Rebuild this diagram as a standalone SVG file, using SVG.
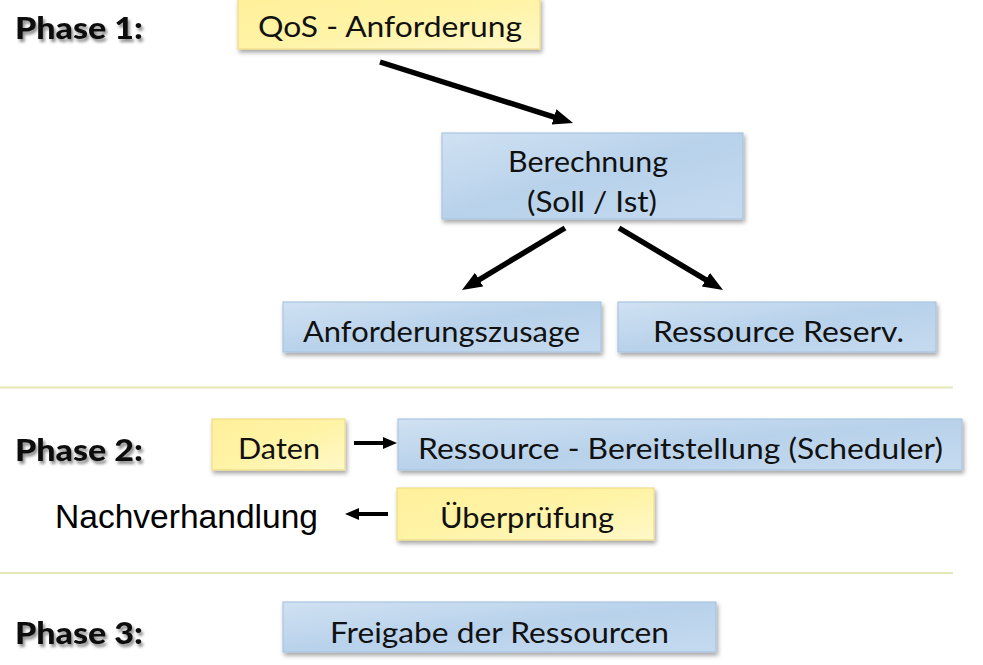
<svg xmlns="http://www.w3.org/2000/svg" width="983" height="665" viewBox="0 0 983 665">
  <defs>
    <linearGradient id="gBlue" x1="0" y1="0" x2="1" y2="1">
      <stop offset="0" stop-color="#d0e1f2"/>
      <stop offset="0.5" stop-color="#b8d2eb"/>
      <stop offset="1" stop-color="#c5daef"/>
    </linearGradient>
    <linearGradient id="gYellow" x1="0" y1="0" x2="1" y2="1">
      <stop offset="0" stop-color="#fff09a"/>
      <stop offset="0.5" stop-color="#fff3a6"/>
      <stop offset="1" stop-color="#fff8c8"/>
    </linearGradient>
    <filter id="shadow" x="-10%" y="-20%" width="120%" height="160%">
      <feDropShadow dx="1.5" dy="3" stdDeviation="2" flood-color="#000" flood-opacity="0.35"/>
    </filter>
    <filter id="tshadow" x="-10%" y="-30%" width="120%" height="170%">
      <feDropShadow dx="2" dy="3" stdDeviation="1.8" flood-color="#000" flood-opacity="0.45"/>
    </filter>
    <marker id="headBig" markerUnits="userSpaceOnUse" markerWidth="22" markerHeight="18" refX="6" refY="8" orient="auto">
      <path d="M0,0 L20,8 L0,16 z" fill="#000"/>
    </marker>
    <marker id="headSmall" markerUnits="userSpaceOnUse" markerWidth="16" markerHeight="14" refX="4" refY="6" orient="auto">
      <path d="M0,0 L14,6 L0,12 z" fill="#000"/>
    </marker>
  </defs>
  <style>
    .blue { fill: url(#gBlue); stroke: #a9c5e1; stroke-width: 1.2; filter: url(#shadow); }
    .yellow { fill: url(#gYellow); stroke: #f0dc86; stroke-width: 1.2; filter: url(#shadow); }
    .lbl { font-family: Lato, "Open Sans", "Liberation Sans", sans-serif; font-size: 29.5px; fill: #111; }
    .phase { font-family: Lato, "Liberation Sans", sans-serif; font-weight: 900; font-size: 30px; fill: #111; filter: url(#tshadow); }
    .plain { font-family: "Liberation Sans", Arial, sans-serif; font-size: 33px; fill: #000; }
    .sep { stroke: #e3e6b5; stroke-width: 2; }
    .arrowBig { stroke: #000; stroke-width: 5.5; fill: none; marker-end: url(#headBig); }
    .arrowSmall { stroke: #000; stroke-width: 4; fill: none; marker-end: url(#headSmall); }
  </style>
  <rect width="983" height="665" fill="#fff"/>

  <g id="separators">
    <line class="sep" x1="0" y1="387.5" x2="953" y2="387.5"/>
    <line class="sep" x1="0" y1="573" x2="953" y2="573"/>
  </g>

  <g id="phase-labels">
    <text class="phase" x="15" y="39" textLength="128" lengthAdjust="spacingAndGlyphs">Phase 1:</text>
    <text class="phase" x="15" y="461" textLength="128" lengthAdjust="spacingAndGlyphs">Phase 2:</text>
    <text class="phase" x="15" y="644" textLength="128" lengthAdjust="spacingAndGlyphs">Phase 3:</text>
  </g>

  <g id="node-qos">
    <rect class="yellow" x="238" y="-2" width="302" height="51"/>
    <text class="lbl" x="258" y="37" textLength="264" lengthAdjust="spacingAndGlyphs">QoS - Anforderung</text>
  </g>

  <g id="node-berechnung">
    <rect class="blue" x="442" y="133" width="301" height="86"/>
    <text class="lbl" x="508" y="172" textLength="160" lengthAdjust="spacingAndGlyphs">Berechnung</text>
    <text class="lbl" x="527" y="212" textLength="130" lengthAdjust="spacingAndGlyphs">(Soll / Ist)</text>
  </g>

  <g id="node-anforderungszusage">
    <rect class="blue" x="283" y="302" width="318" height="50"/>
    <text class="lbl" x="303" y="342" textLength="277" lengthAdjust="spacingAndGlyphs">Anforderungszusage</text>
  </g>

  <g id="node-ressource-reserv">
    <rect class="blue" x="618" y="302" width="318" height="50"/>
    <text class="lbl" x="653" y="342" textLength="251" lengthAdjust="spacingAndGlyphs">Ressource Reserv.</text>
  </g>

  <g id="node-daten">
    <rect class="yellow" x="212" y="419" width="133" height="51"/>
    <text class="lbl" x="238" y="459" textLength="82" lengthAdjust="spacingAndGlyphs">Daten</text>
  </g>

  <g id="node-bereitstellung">
    <rect class="blue" x="398" y="419" width="564" height="51"/>
    <text class="lbl" x="418" y="459" textLength="525" lengthAdjust="spacingAndGlyphs">Ressource - Bereitstellung (Scheduler)</text>
  </g>

  <g id="node-nachverhandlung">
    <text class="plain" x="55" y="528" textLength="263" lengthAdjust="spacingAndGlyphs">Nachverhandlung</text>
  </g>

  <g id="node-ueberpruefung">
    <rect class="yellow" x="397" y="488" width="257" height="52"/>
    <text class="lbl" x="440" y="528" textLength="174" lengthAdjust="spacingAndGlyphs">Überprüfung</text>
  </g>

  <g id="node-freigabe">
    <rect class="blue" x="283" y="602" width="433" height="50"/>
    <text class="lbl" x="330" y="643" textLength="339" lengthAdjust="spacingAndGlyphs">Freigabe der Ressourcen</text>
  </g>

  <g id="connectors">
    <line class="arrowBig" x1="380" y1="62" x2="559.7" y2="118.8"/>
    <line class="arrowBig" x1="565" y1="228" x2="474" y2="282.8"/>
    <line class="arrowBig" x1="619" y1="228" x2="711" y2="282.8"/>
    <line class="arrowSmall" x1="354" y1="443" x2="387" y2="443"/>
    <line class="arrowSmall" x1="388" y1="514" x2="355" y2="514"/>
  </g>
</svg>
